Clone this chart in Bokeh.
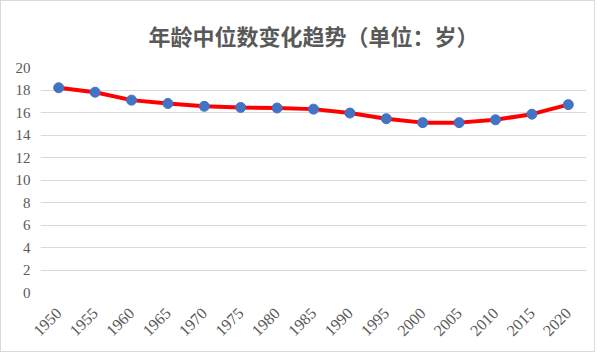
from bokeh.plotting import figure
from bokeh.models import Range1d, FactorRange
from bokeh.embed import file_html
from bokeh.resources import INLINE

years = ["1950", "1955", "1960", "1965", "1970", "1975", "1980", "1985",
         "1990", "1995", "2000", "2005", "2010", "2015", "2020"]
median_age = [18.2, 17.8, 17.1, 16.8, 16.55, 16.45, 16.4, 16.3,
              15.95, 15.45, 15.1, 15.1, 15.35, 15.85, 16.7]
y_ticks = [0, 2, 4, 6, 8, 10, 12, 14, 16, 18, 20]
title_text = "年龄中位数变化趋势（单位：岁）"

p = figure(width=595, height=352, output_backend="svg", toolbar_location=None,
           x_range=FactorRange(factors=years), y_range=Range1d(0, 20),
           title=title_text, min_border_left=39, min_border_right=10,
           min_border_top=66, min_border_bottom=61)
p.styles = {"border": "1px solid #d9d9d9"}

p.title.align = "center"
p.title.offset = -8
p.title.vertical_align = "top"
p.title.text_font = "Noto Sans CJK SC"
p.title.text_font_size = "22px"
p.title.text_font_style = "bold"
p.title.text_color = "#595959"
p.title.standoff = 30

p.outline_line_color = None
p.xgrid.grid_line_color = None
p.ygrid.grid_line_color = "#d9d9d9"
p.ygrid.grid_line_width = 1
p.yaxis.ticker = y_ticks

for ax in (p.xaxis, p.yaxis):
    ax.axis_line_color = None
    ax.major_tick_line_color = None
    ax.minor_tick_line_color = None
    ax.major_tick_out = 0
    ax.major_tick_in = 0
    ax.major_label_text_font = "Liberation Serif"
    ax.major_label_text_font_size = "15px"
    ax.major_label_text_color = "#595959"

p.yaxis.major_label_standoff = 10
p.xaxis.major_label_standoff = 18
p.xaxis.major_label_text_font_size = "16px"
p.xaxis.major_label_orientation = 0.785398

p.line(years, median_age, line_color="#ff0000", line_width=4)
p.scatter(years, median_age, size=10, fill_color="#4472c4", line_color="#4472c4")

open("out.html", "w").write(file_html(p, INLINE))
